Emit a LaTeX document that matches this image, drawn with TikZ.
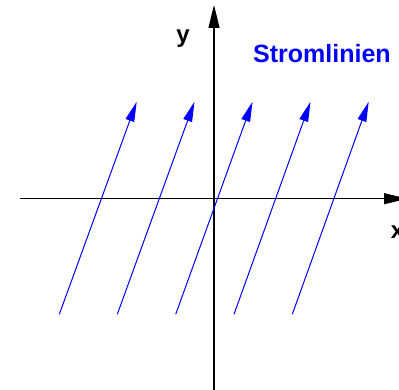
\documentclass[tikz,border=0pt]{standalone}
\usepackage{fontspec}
\setmainfont{Liberation Sans}
\usetikzlibrary{arrows.meta}
\definecolor{sblue}{RGB}{0,0,255}
\tikzset{
  axis/.style={black, line width=1.1pt, -{Triangle[length=23pt,width=11pt]}},
  stream/.style={sblue, line width=1pt, -{Triangle[length=20pt,width=9pt]}},
  lbl/.style={inner sep=0pt, anchor=base, font=\fontsize{24}{24}\selectfont\bfseries}
}
\begin{document}
\begin{tikzpicture}[x=1pt,y=-1pt]
\useasboundingbox (0,0) rectangle (399,390);
\clip (0,0) rectangle (399,390);
% axes
\coordinate (xs) at (20,198.7);
\coordinate (xe) at (407,198.7);
\coordinate (ys) at (214,395);
\coordinate (ye) at (214,5);
\draw[axis] (xs) -- (xe);
\draw[axis] (ys) -- (ye);
% streamlines
\foreach \i/\bx/\tx in {1/59.3/136.7, 2/117.3/194.5, 3/175.7/252.5, 4/234/310.5, 5/292.3/368.7}{
  \coordinate (b\i) at (\bx,314.3);
  \coordinate (t\i) at (\tx,101.7);
  \draw[stream] (b\i) -- (t\i);
}
% labels
\node[lbl] (ylab) at (183,42.5) {y};
\node[lbl] (xlab) at (397.5,239) {x};
\node[lbl, anchor=base west, text=sblue, font=\fontsize{25}{25}\selectfont\bfseries] (title) at (253,63) {Stromlinien};
\end{tikzpicture}
\end{document}
